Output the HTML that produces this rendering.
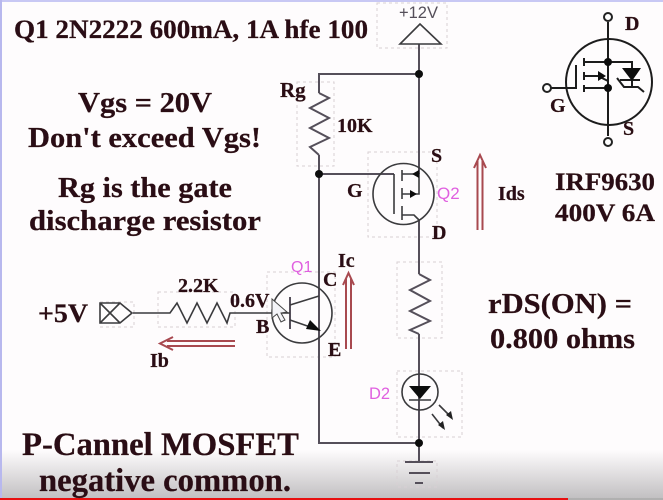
<!DOCTYPE html>
<html><head><meta charset="utf-8"><style>
html,body{margin:0;padding:0;background:#fefcfd}
svg{display:block}
.t{font-family:"Liberation Serif",serif;font-weight:bold;fill:#2a0c12;stroke:#2a0c12;stroke-width:.25}
.s{font-family:"Liberation Sans",sans-serif}
.w{fill:none;stroke:#55505a;stroke-width:2}
.k{fill:none;stroke:#3a3a3e;stroke-width:1.6}
.d{fill:none;stroke:#d8d0d4;stroke-width:1;stroke-dasharray:3 3}
.r{fill:none;stroke:#a84850;stroke-width:2}
</style></head><body>
<svg width="663" height="500" viewBox="0 0 663 500" xmlns="http://www.w3.org/2000/svg">
<defs><linearGradient id="g" x1="0" y1="0" x2="0" y2="1"><stop offset="0" stop-color="#fefcfd"/><stop offset="1" stop-color="#c2c0c2"/></linearGradient>
<filter id="b"><feGaussianBlur stdDeviation="0.35"/></filter></defs>
<rect width="663" height="500" fill="#fefcfd"/>
<rect y="450" width="663" height="48" fill="url(#g)"/>
<rect width="663" height="2" fill="#c8c8f4"/>
<rect width="2" height="498" fill="#b8b8ee"/>
<rect y="498" width="568" height="2" fill="#e81010"/>
<rect x="568" y="498" width="95" height="2" fill="#b0b0b0"/>
<g filter="url(#b)">
<!-- dashed boxes -->
<rect class="d" x="377" y="3" width="70" height="45"/>
<rect class="d" x="297" y="82" width="37" height="84"/>
<rect class="d" x="368" y="152" width="69" height="85"/>
<rect class="d" x="267" y="272" width="68" height="85"/>
<rect class="d" x="158" y="292" width="77" height="35"/>
<rect class="d" x="100" y="302" width="34" height="25"/>
<rect class="d" x="397" y="262" width="45" height="76"/>
<rect class="d" x="397" y="371" width="65" height="66"/>
<rect class="d" x="397" y="461" width="40" height="26"/>
<!-- main wires -->
<path class="w" d="M419 44V174M319 93V74H419M319 155V443H419M394 174H319M419 220V274M419 334V462"/>
<path class="w" d="M319 93L329 98L310 108L329 118L310 128L329 138L310 147L319 155"/>
<path class="w" d="M419 274L430 280L410 290L430 301L410 311L430 321L410 330L419 334"/>
<circle cx="419" cy="74" r="4" fill="#111"/>
<circle cx="319" cy="174" r="4" fill="#111"/>
<circle cx="419" cy="443" r="4" fill="#111"/>
<!-- +12V -->
<path class="k" d="M400 44L420 24L441 44Z"/>
<text class="s" x="399" y="18" font-size="16.500" fill="#55505a">+12V</text>
<!-- Q2 -->
<circle class="k" cx="403.500" cy="194" r="30.500"/>
<path class="k" d="M394 174V214M402 170V181M402 188V199M402 206V220M402 174H419V194H402M402 215H414L419 220"/>
<path d="M419 170V178L412 174Z M417 194L410 190V198Z" fill="#111"/>
<!-- Q1 -->
<circle class="k" cx="302" cy="313" r="30"/>
<path class="w" d="M290 297V329" stroke-width="2.400"/>
<path class="k" d="M290 305L319 296M290 320L319 330"/>
<path d="M321 331L306 329L310 320Z" fill="#111"/>
<path class="k" d="M133 313H170L177 303L187 323L197 303L207 323L217 303L227 323L230 313H290"/>
<!-- connector -->
<path class="k" d="M100 303H120L132 313L120 323H100ZM100 303L120 323M100 323L120 303"/>
<!-- cursor -->
<path d="M272 299L272 318L277 314L281 322L285 320L281 313L287 312Z" fill="#f4f4f8" stroke="#444" stroke-width="1"/>
<!-- D2 -->
<circle class="k" cx="420" cy="392" r="18"/>
<path d="M409 386H431L420 399Z" fill="#0a0a0a"/>
<path class="k" d="M409 400H431"/>
<path class="k" d="M439 405L451 417M432 414L443 428"/>
<path d="M453 420L446 415L451 411Z M445 430L438 425L443 421Z" fill="#222"/>
<!-- Ground -->
<path class="w" d="M405 462H433M409 473H430M415 483H423"/>
<!-- current arrows -->
<path class="r" d="M477.500 230V161M482.500 230V161M474 168L480 155L486 168"/>
<path class="r" d="M346 349V279M351 349V279M343 285L348.500 273L354 285"/>
<path class="r" d="M235 341H167M235 346H167M173 337L160 343.500L173 350"/>
<!-- Right MOSFET -->
<circle cx="609" cy="82" r="43" fill="none" stroke="#1c1c1c" stroke-width="2"/>
<path fill="none" stroke="#1c1c1c" stroke-width="2" d="M608 22V136M551 88H576V65M584 58V66M584 72V80M584 85V92M584 62H632V70M584 88H608M584 76H598M632 80V88M620 80H640M617 78L624 87H632M632 87H638L644 92M598 76L608 81"/>
<path d="M622 68H641L632 81Z" fill="#111"/>
<path d="M606 76L598 71V81Z" fill="#111"/>
<circle cx="608" cy="62" r="4" fill="#111"/>
<circle cx="608" cy="88" r="4" fill="#111"/>
<circle cx="608" cy="17" r="4" fill="#fff" stroke="#222" stroke-width="2"/>
<circle cx="608" cy="142" r="4" fill="#fff" stroke="#222" stroke-width="2"/>
<circle cx="547" cy="88" r="4" fill="#fff" stroke="#222" stroke-width="2"/>
<!-- text -->
<text class="t" x="14" y="38" font-size="26" textLength="354" lengthAdjust="spacingAndGlyphs">Q1 2N2222 600mA, 1A hfe 100</text>
<text class="t" x="78" y="112" font-size="29" textLength="134" lengthAdjust="spacingAndGlyphs">Vgs = 20V</text>
<text class="t" x="28" y="147" font-size="29" textLength="233" lengthAdjust="spacingAndGlyphs">Don't exceed Vgs!</text>
<text class="t" x="58" y="197" font-size="29" textLength="174" lengthAdjust="spacingAndGlyphs">Rg is the gate</text>
<text class="t" x="29" y="230" font-size="29" textLength="232" lengthAdjust="spacingAndGlyphs">discharge resistor</text>
<text class="t" x="22" y="455" font-size="33" textLength="277" lengthAdjust="spacingAndGlyphs">P-Cannel MOSFET</text>
<text class="t" x="39" y="491" font-size="33" textLength="252" lengthAdjust="spacingAndGlyphs">negative common.</text>
<text class="t" x="38" y="322" font-size="26" textLength="50" lengthAdjust="spacingAndGlyphs">+5V</text>
<text class="t" x="280" y="97" font-size="21">Rg</text>
<text class="t" x="337" y="132" font-size="20">10K</text>
<text class="t" x="431" y="162" font-size="20">S</text>
<text class="t" x="347" y="197" font-size="20">G</text>
<text class="t" x="432" y="239" font-size="20">D</text>
<text class="t" x="178" y="292" font-size="20">2.2K</text>
<text class="t" x="230" y="307" font-size="20">0.6V</text>
<text class="t" x="256" y="333" font-size="20">B</text>
<text class="t" x="323" y="286" font-size="20">C</text>
<text class="t" x="328" y="356" font-size="20">E</text>
<text class="t" x="338" y="267" font-size="20">Ic</text>
<text class="t" x="150" y="367" font-size="20">Ib</text>
<text class="t" x="498" y="200" font-size="20">Ids</text>
<text class="t" x="555" y="190" font-size="25" textLength="100" lengthAdjust="spacingAndGlyphs">IRF9630</text>
<text class="t" x="555" y="221" font-size="25" textLength="100" lengthAdjust="spacingAndGlyphs">400V 6A</text>
<text class="t" x="488" y="313" font-size="28" textLength="144" lengthAdjust="spacingAndGlyphs">rDS(ON) =</text>
<text class="t" x="490" y="348" font-size="28" textLength="145" lengthAdjust="spacingAndGlyphs">0.800 ohms</text>
<text class="t" x="550" y="112" font-size="20">G</text>
<text class="t" x="625" y="30" font-size="20">D</text>
<text class="t" x="623" y="135" font-size="20">S</text>
<text class="s" x="291" y="272" font-size="16" fill="#e060e0">Q1</text>
<text class="s" x="437" y="199" font-size="17" fill="#e060e0">Q2</text>
<text class="s" x="369" y="399" font-size="16.500" fill="#e060e0">D2</text>
</g>
</svg>
</body></html>
